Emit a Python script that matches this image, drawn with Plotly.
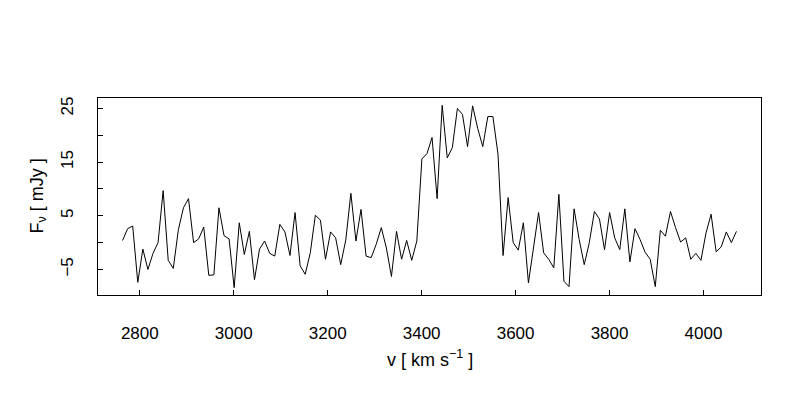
import numpy as np
import plotly.graph_objects as go

# Spectrum channels (km/s): regular grid starting at V0 with width DV
V0 = 2763.3
DV = 10.8
flux = [
    0.4, 2.6, 3.1, -7.4, -1.2, -5.0, -2.0, 0.0, 9.7, -3.3,
    -4.8, 2.4, 6.5, 8.2, 0.0, 0.7, 2.9, -6.1, -6.0, 6.5,
    1.3, 0.7, -8.4, 3.7, -2.2, 2.1, -6.9, -1.2, 0.3, -2.0,
    -2.5, 3.4, 2.0, -2.4, 5.6, -4.3, -5.9, -1.9, 5.1, 4.2,
    -3.1, 2.0, 0.9, -4.1, 0.5, 9.2, 0.3, 6.2, -2.5, -2.8,
    -0.3, 2.8, -1.0, -6.3, 2.1, -3.1, 0.4, -3.3, 0.3, 15.6,
    16.6, 19.6, 8.2, 25.6, 15.8, 17.7, 25.0, 23.9, 17.9, 25.5,
    21.3, 17.9, 23.5, 23.5, 16.5, -2.4, 8.4, 0.0, -1.4, 3.7,
    -7.5, -0.5, 5.6, -1.9, -3.1, -4.7, 9.0, -7.2, -8.2, 6.3,
    0.6, -4.1, 0.0, 5.8, 4.4, -1.3, 5.6, 0.9, -1.3, 6.3,
    -3.6, 2.6, 0.6, -1.8, -3.1, -8.2, 2.3, 1.2, 5.8, 2.8,
    0.1, 0.9, -3.1, -2.0, -3.3, 1.8, 5.3, -1.7, -0.8, 2.0,
    0.0, 2.1,
]
velocity = V0 + DV * np.arange(len(flux))

x_ticks = [2800, 3000, 3200, 3400, 3600, 3800, 4000]
y_label_ticks = [-5, 5, 15, 25]
y_minor_ticks = [0, 10, 20]

# R-style 4% padding of axis ranges
xr = velocity.max() - velocity.min()
yr = max(flux) - min(flux)
x_range = [velocity.min() - 0.04 * xr, velocity.max() + 0.04 * xr]
y_range = [min(flux) - 0.04 * yr, max(flux) + 0.04 * yr]

FONT = "Liberation Sans, Arial, Helvetica, sans-serif"

fig = go.Figure()
fig.add_trace(go.Scatter(
    x=velocity, y=flux, mode="lines",
    line=dict(color="black", width=1),
    hoverinfo="skip", showlegend=False,
))

fig.update_layout(
    width=800, height=400,
    margin=dict(l=90, r=47, t=90, b=113, pad=0),
    paper_bgcolor="white", plot_bgcolor="white",
    font=dict(family=FONT, size=17, color="black"),
    xaxis=dict(
        range=x_range, tickvals=x_ticks, ticks="inside", ticklen=5,
        tickcolor="black", tickwidth=1,
        showline=True, linecolor="black", linewidth=1, mirror=True,
        showgrid=False, zeroline=False, ticklabelstandoff=23,
        tickfont=dict(size=17), automargin=False,
    ),
    yaxis=dict(
        range=y_range, tickvals=y_label_ticks,
        ticks="inside", ticklen=5, tickcolor="black", tickwidth=1,
        minor=dict(tickvals=y_minor_ticks, ticks="inside", ticklen=5,
                   tickcolor="black", tickwidth=1, showgrid=False),
        showline=True, linecolor="black", linewidth=1, mirror=True,
        showgrid=False, zeroline=False, tickangle=-90,
        ticklabelstandoff=17, tickfont=dict(size=17), automargin=False,
    ),
    annotations=[
        dict(text="v [ km s<sup>−1</sup> ]", xref="paper", yref="paper",
             x=0.5, y=0, yshift=-63, showarrow=False,
             font=dict(size=18), xanchor="center", yanchor="middle"),
        dict(text="F<sub>ν</sub> [ mJy ]", xref="paper", yref="paper",
             x=0, y=0.5, xshift=-60, showarrow=False, textangle=-90,
             font=dict(size=18), xanchor="center", yanchor="middle"),
    ],
)

fig.write_html("out.html")
